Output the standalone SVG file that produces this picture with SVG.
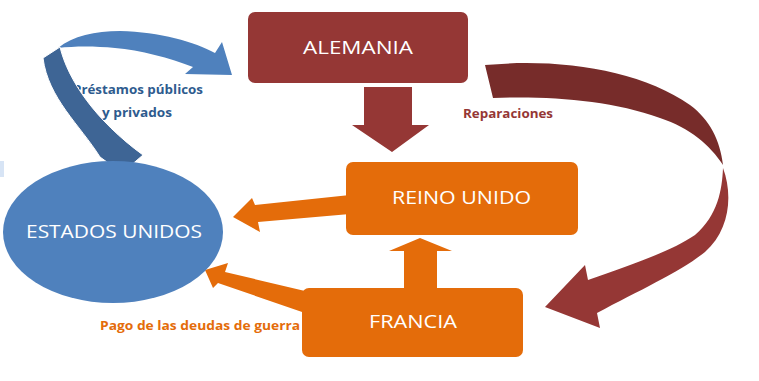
<svg xmlns="http://www.w3.org/2000/svg" width="759" height="381" viewBox="0 0 759 381">
<style>
.box-text{font-family:"Open Sans","Liberation Sans",sans-serif;font-size:18px;fill:#ffffff;text-anchor:middle}
.lbl{font-family:"Open Sans","Liberation Sans",sans-serif;font-size:12.5px;font-weight:bold}
.orange{fill:#E46C0A}
.red{fill:#953735}
.darkred{fill:#772C2A}
.blue{fill:#4F81BD}
.darkblue{fill:#3E6595}
</style>
<rect width="759" height="381" fill="#ffffff"/>
<rect x="0" y="161" width="4" height="16" fill="#C6D9F1" opacity="0.7"/>
<g id="labels">
  <text class="lbl" x="73" y="94" fill="#2E5B8E" textLength="130" lengthAdjust="spacingAndGlyphs">Préstamos públicos</text>
  <text class="lbl" x="102" y="117" fill="#2E5B8E" textLength="70" lengthAdjust="spacingAndGlyphs">y privados</text>
  <text class="lbl" x="463" y="118" fill="#953735" textLength="90" lengthAdjust="spacingAndGlyphs">Reparaciones</text>
  <text class="lbl" x="100" y="330" fill="#E46C0A" textLength="200" lengthAdjust="spacingAndGlyphs">Pago de las deudas de guerra</text>
</g>
<g id="connectors">
  <path id="loan-arrow-top" class="blue" d="M 58,48 C 73,36 95,31 120,31 C 160,32 195,42 215,53 L 222,42 L 232,75 L 185,74 L 193,67 C 170,58 140,50 115,48 C 95,46 75,46 58,48 Z"/>
  <path id="loan-arrow-back" class="darkblue" stroke="#ffffff" stroke-width="1" d="M 43,58 L 60,47 C 68,80 95,120 143,155 L 122,173 L 100,157 C 80,125 48,98 43,58 Z"/>
  <path id="rep-arrow-top" class="darkred" d="M 485,65 C 560,58 640,70 690,105 C 710,120 720,140 723,165 C 710,145 690,128 660,118 C 610,100 550,96 493,98 Z"/>
  <path id="rep-arrow-bottom" class="red" d="M 723,168 C 733,195 730,230 705,252 C 680,272 640,290 597,313 L 600,328 L 545,307 L 585,265 L 588,280 C 630,265 670,252 695,235 C 718,215 722,190 723,168 Z"/>
  <polygon id="de-to-uk" class="red" points="364,87 412,87 412,125 429,125 392,152 352,125 364,125"/>
  <polygon id="fr-to-uk" class="orange" points="404,290 437,290 437,251 452,251 420,238 389,251 404,251"/>
  <polygon id="uk-to-us" class="orange" points="350,195 255,205 252,198 233,217 260,232 258,222 350,214"/>
  <polygon id="fr-to-us" class="orange" points="305,291 225,272 228,263 205,270 213,288 218,283 305,313"/>
</g>
<g id="alemania">
  <rect x="248" y="12" width="220" height="71" rx="7" fill="#953735"/>
  <text class="box-text" x="358" y="53.5" textLength="110" lengthAdjust="spacingAndGlyphs">ALEMANIA</text>
</g>
<g id="reino-unido">
  <rect x="346" y="162" width="232" height="73" rx="7" fill="#E46C0A"/>
  <text class="box-text" x="461.5" y="204" textLength="139" lengthAdjust="spacingAndGlyphs">REINO UNIDO</text>
</g>
<g id="francia">
  <rect x="302" y="288" width="221" height="69" rx="7" fill="#E46C0A"/>
  <text class="box-text" x="413" y="328" textLength="88" lengthAdjust="spacingAndGlyphs">FRANCIA</text>
</g>
<g id="estados-unidos">
  <ellipse cx="113" cy="232" rx="110" ry="71" fill="#4F81BD"/>
  <text class="box-text" x="114" y="238" textLength="176" lengthAdjust="spacingAndGlyphs">ESTADOS UNIDOS</text>
</g>
</svg>
